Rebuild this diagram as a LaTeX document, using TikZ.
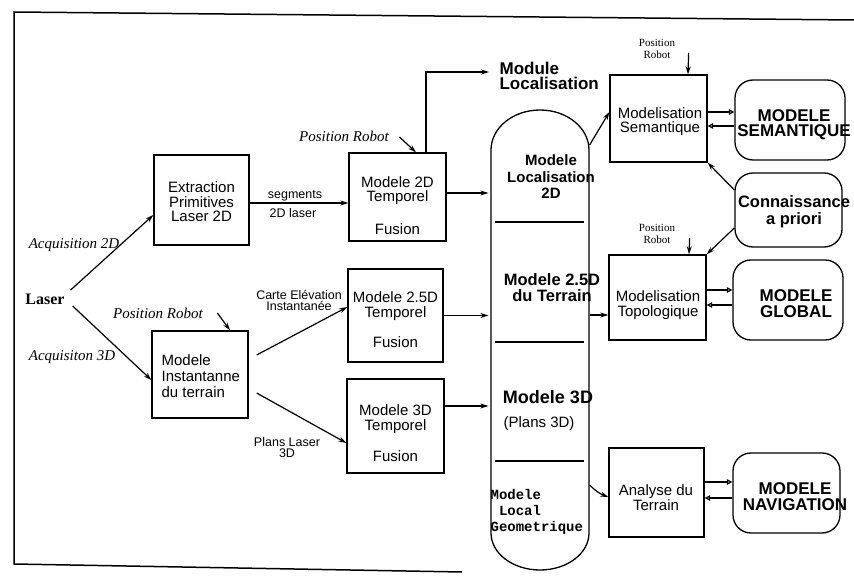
\documentclass[tikz,border=0pt]{standalone}
\usepackage{fontspec}
\setmainfont{Liberation Serif}
\setsansfont{Liberation Sans}
\setmonofont{Liberation Mono}
\usetikzlibrary{arrows.meta}
\begin{document}
\begin{tikzpicture}[x=1pt,y=-1pt,line width=1.2pt,
  procbox/.style={draw,line width=1.3pt,inner sep=0pt},
  rbox/.style={draw,rounded corners=18pt,line width=1.3pt,inner sep=0pt},
  btxt/.style={font=\sffamily\fontsize{15}{14.5}\selectfont,align=center,inner sep=0pt},
  captxt/.style={font=\sffamily\bfseries\fontsize{15}{16.5}\selectfont,align=center,inner sep=0pt},
  bigtxt/.style={font=\sffamily\bfseries\fontsize{17}{15.5}\selectfont,align=center,inner sep=0pt},
  itl/.style={font=\itshape\fontsize{15}{15}\selectfont,inner sep=0pt},
  lbl/.style={font=\sffamily\fontsize{12.5}{11}\selectfont,align=center,inner sep=0pt},
  postxt/.style={font=\fontsize{11}{11.5}\selectfont,align=center,inner sep=0pt},
  arr/.style={-{Stealth[length=8pt,width=5pt]}},
  oarr/.style={-{Triangle[open,length=5.5pt,width=5.5pt]}}]
\useasboundingbox (0,0) rectangle (854,577);
% frame
\draw[line width=1.5pt] (462,572) -- (14,564) -- (14,12) -- (854,20);

% left part
\node[font=\bfseries\fontsize{16}{16}\selectfont,inner sep=0pt] (laser) at (45,299) {Laser};
\node[itl] (acq2) at (74,245) {Acquisition 2D};
\node[itl] (acq3) at (72,357) {Acquisiton 3D};

\node[procbox,minimum width=95pt,minimum height=90pt] (ext) at (201.5,200) {};
\node[btxt] (extt) at (201.5,202) {Extraction\\Primitives\\Laser 2D};

\node[procbox,minimum width=96pt,minimum height=87pt] (inst) at (200,374.5) {};
\node[btxt,align=left,anchor=west,font=\sffamily\fontsize{15}{16}\selectfont] (instt) at (161,376) {Modele\\Instantanne\\du terrain};
\node[itl] (pr1) at (158,313) {Position Robot};

\draw[arr] ([xshift=5.5pt,yshift=9pt]laser.east) -- ([yshift=-15pt]ext.west);
\draw[arr] ([xshift=7.5pt,yshift=-7pt]laser.east) -- ([yshift=-5.5pt]inst.west);
\draw[arr] ([xshift=14pt]pr1.east) -- ([xshift=30pt]inst.north);

% temporal boxes
\node[procbox,minimum width=97pt,minimum height=88pt] (t2d) at (397.5,197) {};
\node[btxt] (t2da) at (397.5,190.5) {Modele 2D\\Temporel};
\node[btxt] (t2db) at (397.5,229) {Fusion};
\node[procbox,minimum width=95pt,minimum height=93pt] (t25) at (395.5,315.5) {};
\node[btxt] (t25a) at (395.5,306) {Modele 2.5D\\Temporel};
\node[btxt] (t25b) at (395.5,342) {Fusion};
\node[procbox,minimum width=97pt,minimum height=94pt] (t3d) at (395.5,426) {};
\node[btxt] (t3da) at (395.5,419) {Modele 3D\\Temporel};
\node[btxt] (t3db) at (395.5,456) {Fusion};

\node[itl] (pr2) at (344,136) {Position Robot};
\draw[arr] ([xshift=10pt,yshift=-1pt]pr2.east) -- ([xshift=18.5pt]t2d.north);

\draw[arr] ([yshift=-3pt]ext.east) -- ([yshift=-6pt]t2d.west);
\node[lbl] (seg) at (295,196) {segments};
\node[lbl] (l2d) at (293,213) {2D laser};

\draw[arr] ([xshift=8pt,yshift=19.5pt]inst.east) -- ([yshift=8.5pt]t25.west);
\node[lbl] (carte) at (299,300.5) {Carte Elévation\\Instantanée};
\draw[arr] ([xshift=8pt,yshift=-18.5pt]inst.east) -- ([yshift=-17pt]t3d.west);
\node[lbl] (plans) at (287,448) {Plans Laser\\3D};

\node[bigtxt,anchor=west,align=left] (ml) at (499,76) {Module\\Localisation};
\draw[arr] ([xshift=28.5pt]t2d.north) |- ([xshift=-10pt,yshift=4pt]ml.west);

% capsule
\node[minimum width=98pt,minimum height=460pt,inner sep=0pt] (cap) at (540,340) {};
\draw[line width=1.3pt] (491,150) arc[start angle=180,end angle=0,x radius=49pt,y radius=40pt]
  -- (589,533) arc[start angle=0,end angle=-180,x radius=49pt,y radius=37pt] -- cycle;
\draw[line width=1.6pt] (495,222) -- (584,222);
\draw[line width=1.6pt] (495,342) -- (584,342);
\draw[line width=1.6pt] (495,461) -- (584,461);
\node[captxt] (c1) at (551,177) {Modele\\Localisation\\2D};
\node[captxt,font=\sffamily\bfseries\fontsize{16.5}{16}\selectfont] (c2) at (552,288) {Modele 2.5D\\du Terrain};
\node[captxt,font=\sffamily\bfseries\fontsize{18}{18}\selectfont] (c3) at (548,397) {Modele 3D};
\node[btxt,anchor=west] (c3b) at (503,424) {(Plans 3D)};
\node[font=\ttfamily\bfseries\fontsize{14}{16}\selectfont,align=left,anchor=west,inner sep=0pt] (c4) at (490,512) {Modele\\~Local\\Geometrique};

\draw[arr] ([yshift=4pt]t2d.east) -- ([xshift=-2pt,yshift=147pt]cap.west);
\draw[arr] (t25.east) -- ([xshift=-2pt,yshift=24.5pt]cap.west);
\draw[arr] ([yshift=20pt]t3d.east) -- ([xshift=-2pt,yshift=-66pt]cap.west);

% right part
\node[procbox,minimum width=97pt,minimum height=87pt] (sem) at (658.5,118.5) {};
\node[btxt,font=\sffamily\fontsize{15}{13.5}\selectfont] (semt) at (660,121.5) {Modelisation\\Semantique};
\node[procbox,minimum width=97pt,minimum height=85pt] (topo) at (657.5,297.5) {};
\node[btxt,font=\sffamily\fontsize{15}{15}\selectfont] (topot) at (658,305.5) {Modelisation\\Topologique};
\node[procbox,minimum width=95pt,minimum height=89pt] (ana) at (656.5,492.5) {};
\node[btxt,font=\sffamily\fontsize{15}{15}\selectfont] (anat) at (656,497.5) {Analyse du\\Terrain};

\node[postxt] (pr3) at (657,49) {Position\\Robot};
\node[postxt] (pr4) at (657,234) {Position\\Robot};
\draw[arr] ([xshift=13pt,yshift=-4pt]pr3.east) -- ([xshift=29.5pt]sem.north);
\draw[arr] ([xshift=14pt,yshift=-4pt]pr4.east) -- ([xshift=31.5pt]topo.north);

\node[rbox,minimum width=110pt,minimum height=80pt] (msem) at (790,120) {};
\node[bigtxt] (msemt) at (794,124.5) {MODELE\\SEMANTIQUE};
\node[rbox,minimum width=107pt,minimum height=74pt] (conn) at (788.5,210) {};
\node[bigtxt,font=\sffamily\bfseries\fontsize{16.5}{17}\selectfont] (connt) at (794,211.5) {Connaissance\\a priori};
\node[rbox,minimum width=110pt,minimum height=80pt] (mglob) at (788,300) {};
\node[bigtxt] (mglobt) at (796,303.5) {MODELE\\GLOBAL};
\node[rbox,minimum width=107pt,minimum height=80pt] (mnav) at (786.5,493) {};
\node[bigtxt] (mnavt) at (795,496.5) {MODELE\\NAVIGATION};

\draw[arr] ([yshift=195pt]cap.east) -- ([yshift=6.5pt]sem.west);
\draw[arr] ([yshift=25pt]cap.east) -- ([yshift=-17.5pt]topo.west);
\draw[arr] ([yshift=-145pt]cap.east) to[bend right=12] ([yshift=-4.5pt]ana.west);

\draw[arr] ([yshift=20pt]conn.west) -- (sem.south east);
\draw[arr] ([yshift=-18pt]conn.west) -- (topo.north east);

\draw[oarr] ([yshift=6.5pt]sem.east) -- ([yshift=8pt]msem.west);
\draw[oarr] ([yshift=-6pt]msem.west) -- ([yshift=-7.5pt]sem.east);
\draw[oarr] ([yshift=7.5pt]topo.east) -- ([yshift=10pt]mglob.west);
\draw[oarr] ([yshift=-5pt]mglob.west) -- ([yshift=-7.5pt]topo.east);
\draw[oarr] ([yshift=10.5pt]ana.east) -- ([yshift=11pt]mnav.west);
\draw[oarr] ([yshift=-5pt]mnav.west) -- ([yshift=-5.5pt]ana.east);
\end{tikzpicture}
\end{document}
